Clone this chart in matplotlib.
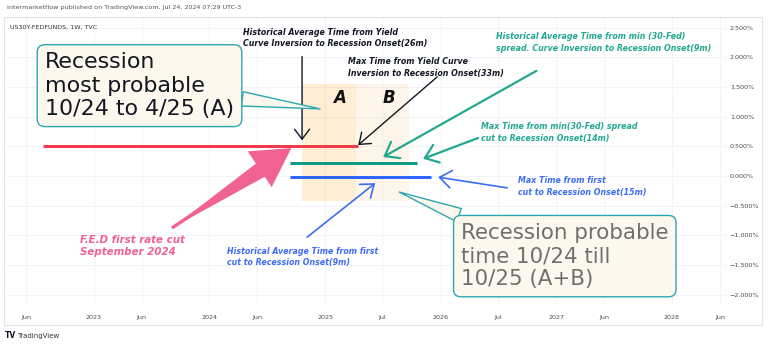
import matplotlib
matplotlib.use("Agg")
import matplotlib.pyplot as plt
import matplotlib.dates as mdates
from matplotlib.patches import Rectangle

# horizontal "time to recession" segments
serie_nombres = ["Yield curve inversion", "min(30-Fed) spread", "First cut"]
serie_inicio = ["2022-07-25", "2024-09-12", "2024-09-12"]
serie_fin = ["2025-04-15", "2025-10-19", "2025-12-02"]
serie_nivel = [0.505, 0.22, -0.015]
serie_colores = ["#f23645", "#089981", "#2962ff"]

# recession windows A and B
zona_letras = ["A", "B"]
zona_inicio = ["2024-10-20", "2025-04-09"]
zona_fin = ["2025-04-09", "2025-09-23"]
zona_arriba = [1.55, 1.55]
zona_abajo = [-0.42, -0.42]

# axis ticks
x_ticks = ["2022-06-01", "2023-01-01", "2023-06-01", "2024-01-01", "2024-06-01", "2025-01-01",
           "2025-07-01", "2026-01-01", "2026-07-01", "2027-01-01", "2027-06-01", "2028-01-01", "2028-06-01"]
x_etiquetas = ["Jun", "2023", "Jun", "2024", "Jun", "2025", "Jul", "2026", "Jul", "2027", "Jun", "2028", "Jun"]
y_ticks = [2.5, 2.0, 1.5, 1.0, 0.5, 0.0, -0.5, -1.0, -1.5, -2.0]


def D(s):
    return mdates.datestr2num(s)


W, H = 768, 347
fig = plt.figure(figsize=(W / 100, H / 100), dpi=100)
fig.patch.set_facecolor("white")
ax = fig.add_axes([6 / W, 1 - 305 / H, (727 - 6) / W, (305 - 17) / H])
ax.set_xlim(D("2022-03-30"), D("2028-06-23"))
ax.set_ylim(-2.172, 2.677)

for s in ax.spines.values():
    s.set_visible(False)

ax.set_xticks([D(t) for t in x_ticks])
ax.set_xticklabels(x_etiquetas)
ax.set_yticks(y_ticks)
ax.set_yticklabels([f"{v:.3f}%".replace("-", "\u2212") for v in y_ticks])
ax.yaxis.tick_right()
ax.tick_params(axis="both", length=0, labelsize=4.6, labelcolor="#4a4a4a")
ax.tick_params(axis="x", pad=7)
ax.tick_params(axis="y", pad=2)
ax.grid(True, color="#f2f4f9", lw=0.8)
ax.set_axisbelow(True)

# zonas A / B
zona_color = ["#ff9800", "#ff9800"]
zona_alpha = [0.17, 0.08]
for i in range(len(zona_letras)):
    x0, x1 = D(zona_inicio[i]), D(zona_fin[i])
    ax.add_patch(Rectangle((x0, zona_abajo[i]), x1 - x0, zona_arriba[i] - zona_abajo[i],
                           fc=zona_color[i], alpha=zona_alpha[i], ec="none", zorder=1))
ax.text(D("2025-02-14"), 1.31, "A", fontsize=12, fontweight="bold", fontstyle="italic",
        ha="center", va="center", color="#111111")
ax.text(D("2025-07-22"), 1.31, "B", fontsize=12, fontweight="bold", fontstyle="italic",
        ha="center", va="center", color="#111111")

# segmentos
for i in range(len(serie_nombres)):
    ax.plot([D(serie_inicio[i]), D(serie_fin[i])], [serie_nivel[i], serie_nivel[i]],
            color=serie_colores[i], lw=2.1, solid_capstyle="butt", zorder=3)


def nota(texto, x, y, color, size=5.65, ls=1.4):
    ax.text(D(x), y, texto, color=color, fontsize=size, fontweight="bold", fontstyle="italic",
            ha="left", va="top", linespacing=ls, zorder=5)


def flecha(x0, y0, x1, y1, color, lw, ms=12):
    ax.annotate("", xy=(D(x1), y1), xytext=(D(x0), y0),
                arrowprops=dict(arrowstyle="->,head_length=0.6,head_width=0.45", color=color, lw=lw,
                                shrinkA=0, shrinkB=0, mutation_scale=ms), zorder=4)


negro, verde, azul, rosa = "#131722", "#22a88f", "#3d6cf5", "#f06292"

nota("Historical Average Time from Yield\nCurve Inversion to Recession Onset(26m)", "2024-04-17", 2.50, negro)
flecha("2024-10-20", 2.01, "2024-10-20", 0.60, negro, 1.0)
nota("Max Time from Yield Curve\nInversion to Recession Onset(33m)", "2025-03-14", 2.00, negro)
flecha("2025-12-21", 1.67, "2025-04-15", 0.52, negro, 1.0)

nota("Historical Average Time from min (30-Fed)\nspread. Curve Inversion to Recession Onset(9m)", "2026-06-25", 2.42, verde)
flecha("2026-10-30", 1.77, "2025-07-03", 0.32, verde, 1.6, ms=15)
nota("Max Time from min(30-Fed) spread\ncut to Recession Onset(14m)", "2026-05-09", 0.91, verde)
flecha("2026-04-29", 0.64, "2025-11-06", 0.29, verde, 1.6, ms=15)

nota("Max Time from first\ncut to Recession Onset(15m)", "2026-09-03", 0.0, azul)
flecha("2026-07-30", -0.20, "2025-12-24", -0.02, azul, 1.2, ms=14)
nota("Historical Average Time from first\ncut to Recession Onset(9m)", "2024-02-26", -1.19, azul)
flecha("2024-11-05", -1.03, "2025-06-08", -0.12, azul, 1.2, ms=14)

# flecha rosa: cabeza + cuerpo que se ensancha hacia la cabeza
nota("F.E.D first rate cut\nSeptember 2024", "2022-11-19", -1.00, rosa, size=7.4, ls=1.2)
ax.annotate("", xy=(D("2024-09-16"), 0.47), xytext=(D("2023-09-05"), -0.875),
            arrowprops=dict(arrowstyle="simple,head_length=1.37,head_width=1.55,tail_width=0.12",
                            fc=rosa, ec="none", shrinkA=0, shrinkB=0, mutation_scale=20),
            zorder=4)
ax.annotate("", xy=(D("2023-09-05"), -0.875), xytext=(D("2024-06-25"), 0.15),
            arrowprops=dict(arrowstyle="wedge,tail_width=0.6,shrink_factor=0.5",
                            fc=rosa, ec="none", shrinkA=0, shrinkB=0, mutation_scale=20),
            zorder=4)

# callouts
borde, fondo = "#2ba7b0", "#fdf8ee"
ax.annotate("Recession\nmost probable\n10/24 to 4/25 (A)", xy=(D("2024-12-16"), 1.13),
            xytext=(D("2022-07-31"), 2.08), ha="left", va="top", fontsize=15.9, color="#131722",
            linespacing=1.2, zorder=6,
            bbox=dict(boxstyle="round,pad=0.35,rounding_size=0.35", fc=fondo, ec=borde, lw=1),
            arrowprops=dict(arrowstyle="wedge,tail_width=0.65,shrink_factor=0.5", fc=fondo, ec=borde,
                            lw=1, shrinkA=0, shrinkB=0))
ax.annotate("Recession probable\ntime 10/24 till\n10/25 (A+B)", xy=(D("2025-08-23"), -0.27),
            xytext=(D("2026-03-06"), -0.79), ha="left", va="top", fontsize=15.4, color="#6f6f6f",
            linespacing=1.2, zorder=6,
            bbox=dict(boxstyle="round,pad=0.35,rounding_size=0.35", fc=fondo, ec=borde, lw=1),
            arrowprops=dict(arrowstyle="wedge,tail_width=0.65,shrink_factor=0.5", fc=fondo, ec=borde,
                            lw=1, shrinkA=0, shrinkB=0))

# marco y textos de TradingView
fig.patches.append(Rectangle((4 / W, 1 - 325 / H), (762 - 4) / W, (325 - 17) / H,
                             transform=fig.transFigure, fill=False, ec="#e0e3eb", lw=0.8))
fig.text(7 / W, 1 - 8 / H, "intermarketflow published on TradingView.com, Jul 24, 2024 07:29 UTC-3",
         fontsize=4.6, color="#555555", va="center", ha="left")
fig.text(10 / W, 1 - 27 / H, "US30Y-FEDFUNDS, 1W, TVC", fontsize=4.6, color="#333333",
         va="center", ha="left")
fig.text(5 / W, 1 - 336 / H, "TV", fontsize=5.5, fontweight="bold", color="#131722", va="center")
fig.text(17 / W, 1 - 336 / H, "TradingView", fontsize=5, color="#333333", va="center")

fig.savefig("out.png", dpi=100)
